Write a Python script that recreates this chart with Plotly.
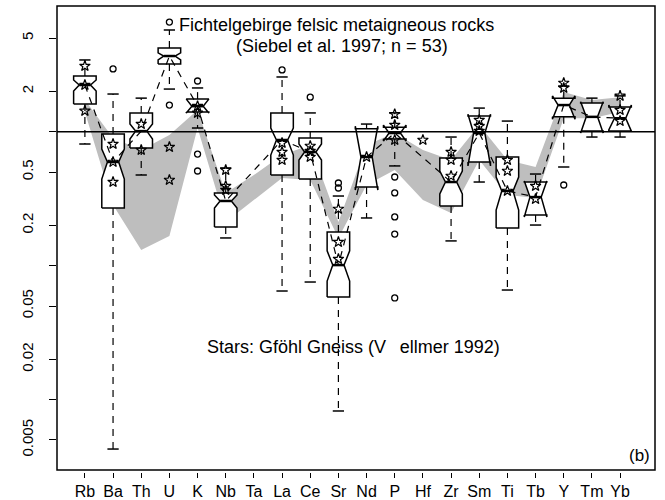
import plotly.graph_objects as go

cats = ["Rb", "Ba", "Th", "U", "K", "Nb", "Ta", "La", "Ce", "Sr",
        "Nd", "P", "Hf", "Zr", "Sm", "Ti", "Tb", "Y", "Tm", "Yb"]

q1 = [1.61, 0.269, 0.755, 3.20, 1.40, 0.194, None, 0.475, 0.443, 0.0584,
      0.386, 0.882, None, 0.279, 0.594, 0.191, 0.239, 1.29, 1.01, 1.01]
med = [2.23, 0.594, 1.01, 3.67, 1.55, 0.304, None, 0.867, 0.705, 0.101,
       0.647, 0.977, None, 0.421, 0.977, 0.361, 0.325, 1.58, 1.29, 1.26]
q3 = [2.60, 0.960, 1.38, 4.21, 1.75, 0.349, None, 1.38, 0.897, 0.178,
      1.05, 1.08, None, 0.636, 1.31, 0.647, 0.421, 1.78, 1.64, 1.53]
notch_lo = [2.01, 0.443, 0.882, 3.43, 1.38, 0.269, None, 0.669, 0.614, 0.0768,
            0.367, 0.852, None, 0.343, 0.555, 0.260, 0.231, 1.24, 0.977, 1.03]
notch_hi = [2.43, 0.742, 1.14, 3.87, 1.75, 0.337, None, 1.065, 0.809, 0.129,
            1.10, 1.12, None, 0.509, 1.35, 0.459, 0.428, 1.85, 1.67, 1.58]
whisk_lo = [0.809, 0.00428, 0.475, 2.08, 1.065, 0.161, None, 0.0647, 0.0755, 0.00823,
            0.227, 0.555, None, 0.153, 0.421, 0.0658, 0.201, 0.545, 0.912, 0.912]
whisk_hi = [3.43, 1.91, 1.78, 5.74, 2.12, 0.536, None, 2.56, 1.38, 0.331,
            1.14, 1.38, None, 0.912, 1.50, 1.20, 0.483, 2.19, 1.78, 1.85]

outliers = [[], [2.94], [], [6.58, 1.58], [2.39, 0.681, 0.509], [], [], [2.89], [1.81],
            [0.414, 0.380], [], [0.459, 0.349, 0.231, 0.172, 0.0574], [], [], [], [], [],
            [0.400], [], []]

stars = [[3.09, 2.23, 1.43], [0.809, 0.594, 0.421], [1.14, 0.730], [0.768, 0.436],
         [1.55, 1.38], [0.517, 0.393, 0.367], [], [0.823, 0.705, 0.614],
         [0.782, 0.717, 0.647], [0.265, 0.150, 0.112], [0.647], [1.35, 1.12, 0.867],
         [0.867], [0.705, 0.614, 0.467], [1.22, 1.10, 1.01], [0.614, 0.509, 0.361],
         [0.393, 0.314], [2.31, 2.12], [], [1.85, 1.45, 1.20]]

band_hi = [1.72, 0.897, 0.730, 0.944, 1.45, 0.349, 0.475, 0.669, 0.795, 0.212,
           0.795, 0.977, 0.730, 0.614, 1.12, 0.614, 0.545, 1.98, 1.72, 1.81]
band_lo = [1.40, 0.284, 0.131, 0.1665, 1.065, 0.212, 0.309, 0.451, 0.436, 0.161,
           0.400, 0.517, 0.309, 0.247, 0.614, 0.337, 0.320, 1.26, 1.26, 1.40]

ytick_vals = [0.005, 0.01, 0.02, 0.05, 0.1, 0.2, 0.5, 1, 2, 5]
ytick_text = ["0.005", "", "0.02", "0.05", "", "0.2", "0.5", "", "2", "5"]

FONT = "Arial, Liberation Sans, Helvetica, sans-serif"
W = 0.4     # half box width
WM = 0.2    # half notch width
CAP = 0.2   # half staple width

fig = go.Figure()
idx = list(range(len(cats)))

# grey band
fig.add_trace(go.Scatter(x=idx + idx[::-1], y=band_hi + band_lo[::-1], mode="lines",
                         fill="toself", fillcolor="#BEBEBE", line=dict(width=0),
                         hoverinfo="skip"))

wx, wy, cx, cy, bxs, bys, mx, my = [], [], [], [], [], [], [], []
lx, ly = [], []
for i in idx:
    if q1[i] is None:
        continue
    wx += [i, i, None, i, i, None]
    wy += [q3[i], whisk_hi[i], None, q1[i], whisk_lo[i], None]
    cx += [i - CAP, i + CAP, None, i - CAP, i + CAP, None]
    cy += [whisk_hi[i], whisk_hi[i], None, whisk_lo[i], whisk_lo[i], None]
    bxs += [i - W, i - W, i - WM, i - W, i - W, i + W, i + W, i + WM, i + W, i + W, i - W, None]
    bys += [q1[i], notch_lo[i], med[i], notch_hi[i], q3[i], q3[i], notch_hi[i], med[i],
            notch_lo[i], q1[i], q1[i], None]
    mx += [i - WM, i + WM, None]
    my += [med[i], med[i], None]
    lx.append(i)
    ly.append(med[i])

fig.add_trace(go.Scatter(x=wx, y=wy, mode="lines", line=dict(color="black", width=1.2, dash="7px,6px"),
                         hoverinfo="skip"))
fig.add_trace(go.Scatter(x=cx, y=cy, mode="lines", line=dict(color="black", width=1.5),
                         hoverinfo="skip"))
fig.add_trace(go.Scatter(x=bxs, y=bys, mode="lines", fill="toself", fillcolor="white",
                         line=dict(color="black", width=1.5), hoverinfo="skip"))
fig.add_trace(go.Scatter(x=mx, y=my, mode="lines", line=dict(color="black", width=2.5),
                         hoverinfo="skip"))
fig.add_trace(go.Scatter(x=lx, y=ly, mode="lines", line=dict(color="black", width=1.2, dash="7px,6px"),
                         hoverinfo="skip"))

sx, sy, ox, oy = [], [], [], []
for i in idx:
    for v in stars[i]:
        sx.append(i); sy.append(v)
    for v in outliers[i]:
        ox.append(i); oy.append(v)

fig.add_trace(go.Scatter(x=sx, y=sy, mode="markers",
                         marker=dict(symbol="star-open", size=8, color="black", line=dict(width=1.2)),
                         hoverinfo="skip"))
fig.add_trace(go.Scatter(x=ox, y=oy, mode="markers",
                         marker=dict(symbol="circle-open", size=6, color="black", line=dict(width=1.3)),
                         hoverinfo="skip"))

H_PLOT = 500 - 6 - 28
dd = 2 / H_PLOT
fig.add_shape(type="rect", xref="paper", yref="paper", x0=0, x1=1, y0=dd, y1=1,
              line=dict(color="black", width=1.5), layer="above")
fig.add_shape(type="line", xref="paper", yref="y", x0=0, x1=1, y0=1, y1=1,
              line=dict(color="black", width=1.5), layer="above")

NB = "\u00a0"
fig.add_annotation(x=3.27, y=0.796, xref="x", yref="y", yanchor="middle",
                   text="Fichtelgebirge felsic metaigneous rocks", showarrow=False,
                   xanchor="left", font=dict(family=FONT, size=18, color="black"))
fig.add_annotation(x=5.29, y=0.639, xref="x", yref="y", yanchor="middle",
                   text="(Siebel et al. 1997; n = 53)", showarrow=False,
                   xanchor="left", font=dict(family=FONT, size=18, color="black"))
fig.add_annotation(x=4.26, y=-1.607, xref="x", yref="y", yanchor="middle",
                   text="Stars: Gföhl Gneiss (V" + NB * 2 + "\u2009" + "ellmer 1992)", showarrow=False,
                   xanchor="left", font=dict(family=FONT, size=18, color="black"))
fig.add_annotation(x=1, y=-2.42, xref="paper", yref="y", yanchor="middle",
                   text="(b)", showarrow=False, xanchor="right", xshift=-3,
                   font=dict(family=FONT, size=17, color="black"))

fig.update_layout(
    width=665, height=500,
    margin=dict(l=57, r=10, t=6, b=28),
    paper_bgcolor="white", plot_bgcolor="white",
    showlegend=False,
    xaxis=dict(range=[-0.99, 20.24], tickvals=idx, ticktext=cats, ticks="outside",
               ticklen=5, tickcolor="black", tickwidth=1.2, showgrid=False, zeroline=False,
               showline=False, anchor="free", position=0, automargin=False,
               tickfont=dict(family=FONT, size=16, color="black")),
    yaxis=dict(type="log", range=[-2.525, 0.938], domain=[dd, 1], automargin=False,
               tickvals=ytick_vals, ticktext=ytick_text, tickangle=-90,
               ticks="outside", ticklen=7, tickcolor="black", tickwidth=1.2,
               ticklabelstandoff=10,
               showgrid=False, zeroline=False, showline=False,
               tickfont=dict(family=FONT, size=15, color="black")),
)

fig.write_html("out.html")
